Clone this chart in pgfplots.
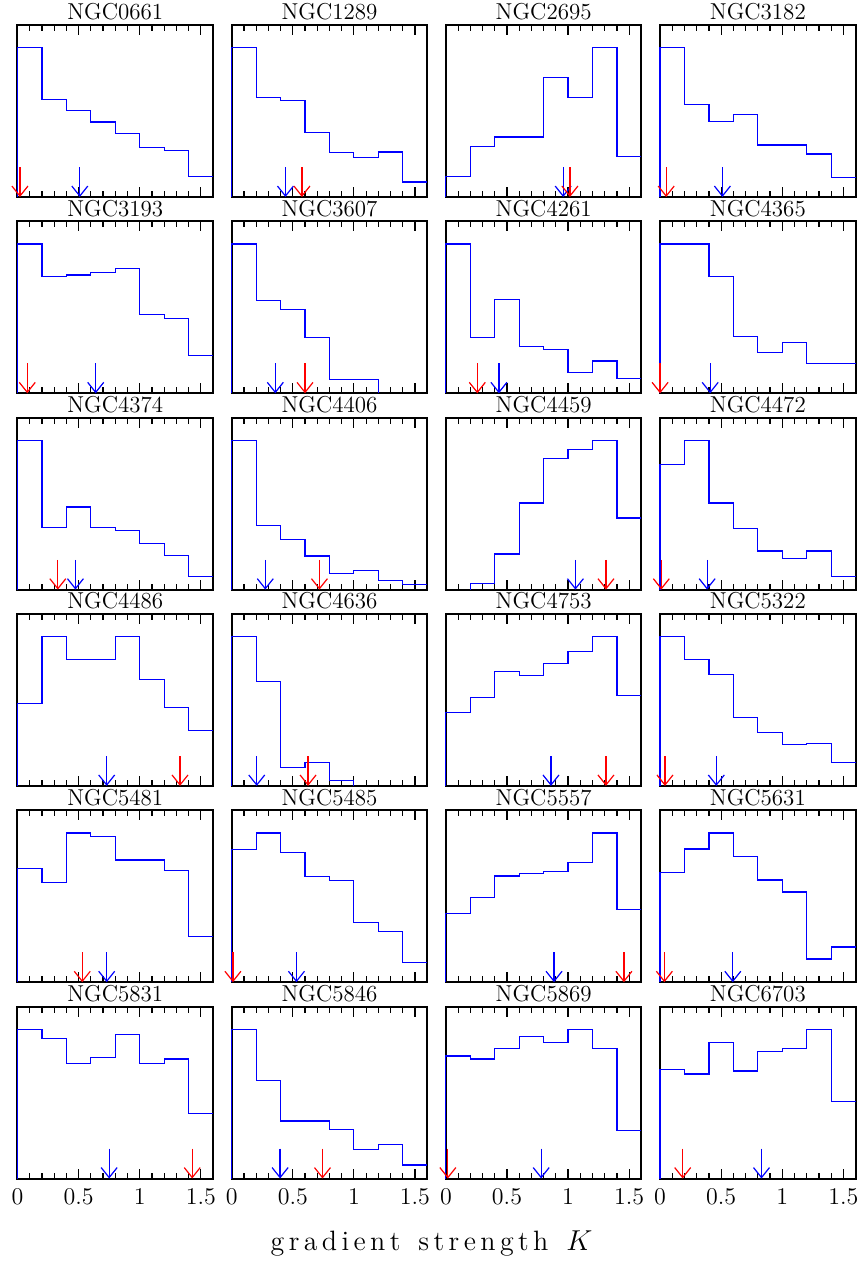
\documentclass[border=0pt]{standalone}
\usepackage{fontspec}
\usepackage{pgfplots}
\pgfplotsset{compat=1.18}
\usepgfplotslibrary{groupplots}
\usetikzlibrary{arrows.meta,calc}

\newcommand\hist[4]{%
  \nextgroupplot[title={#1}]
  \addplot[histline] coordinates {#2};
  \addplot[blue, arr] coordinates {(#3,0.2) (#3,0)};
  \addplot[red, arr] coordinates {(#4,0.2) (#4,0)};
}

\begin{document}
\begin{tikzpicture}
\pgfplotsset{
  histline/.style={blue, line width=0.6pt, const plot, mark=none},
  arr/.style={line width=0.6pt, mark=none, -{Straight Barb[length=5pt,width=8pt]}},
}
\begin{groupplot}[
  group style={group size=4 by 6, horizontal sep=9.35pt, vertical sep=12.15pt,
               xticklabels at=edge bottom},
  width=97.75pt, height=86pt, scale only axis,
  xmin=0, xmax=1.6, ymin=0, ymax=1.152,
  xtick={0,0.5,1,1.5}, minor x tick num=4, ytick=\empty,
  xtick pos=both, tick align=inside,
  major tick length=5pt, minor tick length=3pt,
  every tick/.style={black, line width=0.6pt},
  axis line style={line width=1pt},
  clip=false,
  every axis title shift=0pt,
  title style={at={(0.5,1)}, anchor=base, yshift=2.6pt, inner sep=0pt,
               font=\fontsize{11.5}{13}\selectfont},
  xticklabel style={anchor=base, yshift=-12.9pt, font=\fontsize{11.5}{13}\selectfont},
]
\hist{NGC0661}{(0,0) (0,1) (0.2,0.655) (0.4,0.579) (0.6,0.503) (0.8,0.427) (1.0,0.331) (1.2,0.309) (1.4,0.136) (1.6,0.136)}{0.51}{0.02}
\hist{NGC1289}{(0,0) (0,1) (0.2,0.667) (0.4,0.647) (0.6,0.432) (0.8,0.300) (1.0,0.266) (1.2,0.302) (1.4,0.100) (1.6,0.100)}{0.44}{0.575}
\hist{NGC2695}{(0,0) (0,0.135) (0.2,0.337) (0.4,0.402) (0.6,0.402) (0.8,0.800) (1.0,0.665) (1.2,1.0) (1.4,0.270) (1.6,0.270)}{0.96}{1.015}
\hist{NGC3182}{(0,0) (0,1) (0.2,0.622) (0.4,0.508) (0.6,0.553) (0.8,0.348) (1.0,0.348) (1.2,0.288) (1.4,0.133) (1.6,0.133)}{0.51}{0.05}
\hist{NGC3193}{(0,0) (0,1) (0.2,0.784) (0.4,0.793) (0.6,0.811) (0.8,0.838) (1.0,0.529) (1.2,0.500) (1.4,0.252) (1.6,0.252)}{0.64}{0.08}
\hist{NGC3607}{(0,0) (0,1) (0.2,0.624) (0.4,0.563) (0.6,0.374) (0.8,0.095) (1.0,0.095) (1.2,0)}{0.357}{0.60}
\hist{NGC4261}{(0,0) (0,1) (0.2,0.374) (0.4,0.626) (0.6,0.315) (0.8,0.293) (1.0,0.137) (1.2,0.216) (1.4,0.099) (1.6,0.099)}{0.434}{0.257}
\hist{NGC4365}{(0,0) (0,1) (0.2,1) (0.4,0.784) (0.6,0.378) (0.8,0.273) (1.0,0.342) (1.2,0.200) (1.4,0.200) (1.6,0.200)}{0.41}{0.0}
\hist{NGC4374}{(0,0) (0,1) (0.2,0.416) (0.4,0.553) (0.6,0.416) (0.8,0.398) (1.0,0.310) (1.2,0.227) (1.4,0.088) (1.6,0.088)}{0.474}{0.33}
\hist{NGC4406}{(0,0) (0,1) (0.2,0.427) (0.4,0.333) (0.6,0.225) (0.8,0.110) (1.0,0.128) (1.2,0.063) (1.4,0.034) (1.6,0.034)}{0.275}{0.718}
\hist{NGC4459}{(0.2,0) (0.2,0.04) (0.4,0.238) (0.6,0.580) (0.8,0.879) (1.0,0.939) (1.2,1.0) (1.4,0.479) (1.6,0.479)}{1.06}{1.31}
\hist{NGC4472}{(0,0) (0,0.84) (0.2,1) (0.4,0.580) (0.6,0.409) (0.8,0.258) (1.0,0.209) (1.2,0.258) (1.4,0.090) (1.6,0.090)}{0.385}{0.01}
\hist{NGC4486}{(0,0) (0,0.554) (0.2,1) (0.4,0.845) (0.6,0.845) (0.8,1) (1.0,0.712) (1.2,0.525) (1.4,0.369) (1.6,0.369)}{0.73}{1.33}
\hist{NGC4636}{(0,0) (0,1) (0.2,0.698) (0.4,0.122) (0.6,0.155) (0.8,0.034) (1.0,0)}{0.205}{0.625}
\hist{NGC4753}{(0,0) (0,0.491) (0.2,0.592) (0.4,0.764) (0.6,0.741) (0.8,0.820) (1.0,0.899) (1.2,1) (1.4,0.606) (1.6,0.606)}{0.86}{1.31}
\hist{NGC5322}{(0,0) (0,1) (0.2,0.845) (0.4,0.745) (0.6,0.459) (0.8,0.360) (1.0,0.275) (1.2,0.286) (1.4,0.158) (1.6,0.158)}{0.46}{0.04}
\hist{NGC5481}{(0,0) (0,0.759) (0.2,0.669) (0.4,1) (0.6,0.975) (0.8,0.818) (1.0,0.818) (1.2,0.750) (1.4,0.306) (1.6,0.306)}{0.73}{0.53}
\hist{NGC5485}{(0,0) (0,0.887) (0.2,1) (0.4,0.867) (0.6,0.709) (0.8,0.680) (1.0,0.399) (1.2,0.342) (1.4,0.131) (1.6,0.131)}{0.53}{0.01}
\hist{NGC5557}{(0,0) (0,0.459) (0.2,0.565) (0.4,0.712) (0.6,0.730) (0.8,0.739) (1.0,0.800) (1.2,1) (1.4,0.489) (1.6,0.489)}{0.885}{1.457}
\hist{NGC5631}{(0,0) (0,0.736) (0.2,0.892) (0.4,1) (0.6,0.840) (0.8,0.685) (1.0,0.604) (1.2,0.155) (1.4,0.236) (1.6,0.236)}{0.595}{0.035}
\hist{NGC5831}{(0,0) (0,1) (0.2,0.939) (0.4,0.773) (0.6,0.811) (0.8,0.964) (1.0,0.773) (1.2,0.800) (1.4,0.437) (1.6,0.437)}{0.75}{1.43}
\hist{NGC5846}{(0,0) (0,1) (0.2,0.658) (0.4,0.385) (0.6,0.385) (0.8,0.329) (1.0,0.194) (1.2,0.227) (1.4,0.090) (1.6,0.090)}{0.396}{0.743}
\hist{NGC5869}{(0,0) (0,0.82) (0.2,0.80) (0.4,0.87) (0.6,0.95) (0.8,0.91) (1.0,1) (1.2,0.87) (1.4,0.32) (1.6,0.32)}{0.78}{0.016}
\hist{NGC6703}{(0,0) (0,0.73) (0.2,0.70) (0.4,0.91) (0.6,0.72) (0.8,0.85) (1.0,0.87) (1.2,1) (1.4,0.515) (1.6,0.515)}{0.83}{0.185}
\end{groupplot}
\node[anchor=base, font=\fontsize{14}{16}\selectfont]
  at ($(group c2r6.south east)!0.5!(group c3r6.south west)+(-2.5pt,-35.9pt)$)
  {\def\k{\kern2.2pt}g\k r\k a\k d\k i\k e\k n\k t\k\ \k s\k t\k r\k e\k n\k g\k t\k h\k\ \k$K$};
\pgfresetboundingbox
\path[use as bounding box] ($(group c1r1.north west)+(-8.75pt,12.5pt)$) rectangle ++(432.5pt,-633pt);
\end{tikzpicture}
\end{document}
